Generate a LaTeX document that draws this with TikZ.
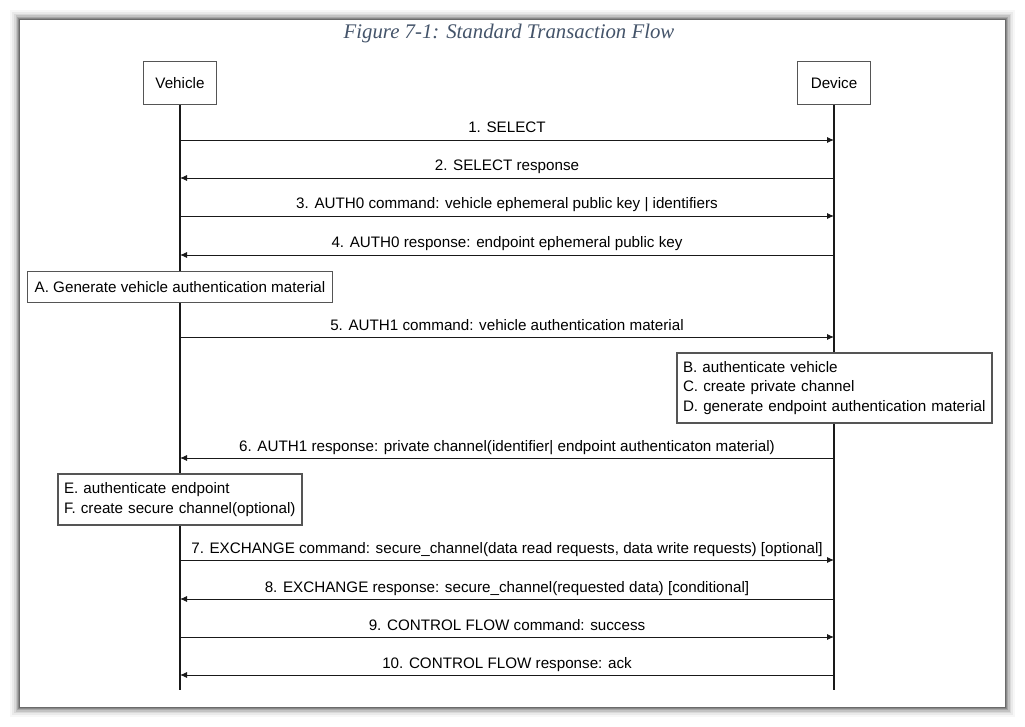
\documentclass[tikz,border=0pt]{standalone}
\usepackage{fontspec}
\setmainfont{Liberation Sans}
\newfontfamily\capfont{Liberation Serif}
\usepackage{tikz}
\usetikzlibrary{positioning}
\usetikzlibrary{arrows.meta}
\definecolor{capblue}{HTML}{44546A}
\definecolor{boxgray}{HTML}{555555}
\tikzset{
  every node/.style={
    align=center,
    font=\fontsize{15.2}{19.5}\selectfont,
  },
  actor/.style={draw=boxgray, line width=1.3pt, minimum width=73pt, minimum height=43pt},
  note/.style={draw=boxgray, line width=1.1pt, fill=white, align=left, inner xsep=6pt, inner ysep=0pt},
  msg/.style={-{Latex[length=7pt,width=6pt]}, line width=0.9pt, draw=black!90},
  lbl/.style={anchor=base, inner sep=0pt, yshift=7pt},
  lifeline/.style={line width=1.1pt, draw=black!90},
}

\begin{document}
\begin{tikzpicture}[x=1pt,y=-1pt]
    \useasboundingbox (0,0) rectangle (1025,727);
    % page and its shadow
    \foreach \d/\o in {10/0.03,8/0.05,6/0.07,4.5/0.1,3/0.14,2/0.18,1/0.22}
      \fill[black, opacity=\o] (20-\d,20-\d) rectangle (1005+\d,707+\d);
    \fill[white] (20,20) rectangle (1005,707);
    \node[font=\capfont\itshape\fontsize{20.8}{22}\selectfont, text=capblue] (title) at (509,34) {Figure 7-1: Standard Transaction Flow};
    % actors
    \node[actor] (veh) at (180,83) {Vehicle};
    \node[actor] (dev) at (834,83) {Device};
    \coordinate (vend) at (180,690);
    \coordinate (dend) at (834,690);
    \draw[lifeline] (veh) -- (vend);
    \draw[lifeline] (dev) -- (dend);
    % message ends
    \path (180,140) coordinate (v1) (834,140) coordinate (d1)
          (180,178) coordinate (v2) (834,178) coordinate (d2)
          (180,216) coordinate (v3) (834,216) coordinate (d3)
          (180,255) coordinate (v4) (834,255) coordinate (d4)
          (180,337) coordinate (v5) (834,337) coordinate (d5)
          (180,458) coordinate (v6) (834,458) coordinate (d6)
          (180,560) coordinate (v7) (834,560) coordinate (d7)
          (180,599) coordinate (v8) (834,599) coordinate (d8)
          (180,637) coordinate (v9) (834,637) coordinate (d9)
          (180,675) coordinate (v10) (834,675) coordinate (d10);
    % messages
    \draw[msg] (v1) -- node[lbl] {1. SELECT} (d1);
    \draw[msg] (d2) -- node[lbl] {2. SELECT response} (v2);
    \draw[msg] (v3) -- node[lbl] {3. AUTH0 command: vehicle ephemeral public key | identifiers} (d3);
    \draw[msg] (d4) -- node[lbl] {4. AUTH0 response: endpoint ephemeral public key} (v4);
    \draw[msg] (v5) -- node[lbl] {5. AUTH1 command: vehicle authentication material} (d5);
    \draw[msg] (d6) -- node[lbl] {6. AUTH1 response: private channel(identifier| endpoint authenticaton material)} (v6);
    \draw[msg] (v7) -- node[lbl] {7. EXCHANGE command: secure\_channel(data read requests, data write requests) [optional]} (d7);
    \draw[msg] (d8) -- node[lbl] {8. EXCHANGE response: secure\_channel(requested data) [conditional]} (v8);
    \draw[msg] (v9) -- node[lbl] {9. CONTROL FLOW command: success} (d9);
    \draw[msg] (d10) -- node[lbl] {10. CONTROL FLOW response: ack} (v10);
    % notes
    \node[note, align=center, minimum width=305pt, minimum height=31pt] (stepA) at (180,287) {A. Generate vehicle authentication material};
    \node[note, text width=303pt, minimum height=70pt] (stepBCD) at (834.5,388) {B. authenticate vehicle\\C. create private channel\\D. generate endpoint authentication material};
    \node[note, text width=232pt, minimum height=51pt] (stepEF) at (180,499.5) {E. authenticate endpoint\\F. create secure channel(optional)};
\end{tikzpicture}
\end{document}
